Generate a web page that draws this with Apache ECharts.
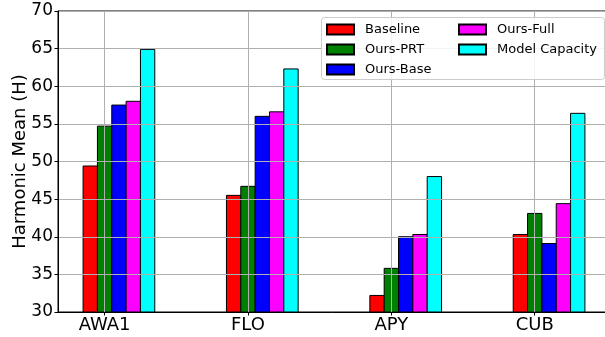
<!DOCTYPE html>
<html>
<head>
<meta charset="utf-8">
<script src="https://cdn.jsdelivr.net/npm/echarts@6/dist/echarts.min.js"></script>
<style>
html,body{margin:0;padding:0;background:#fff;}
#chart{width:605px;height:337px;}
</style>
</head>
<body>
<div id="chart"></div>
<script>
const categories = ['AWA1', 'FLO', 'APY', 'CUB'];
const seriesNames = ['Baseline', 'Ours-PRT', 'Ours-Base', 'Ours-Full', 'Model Capacity'];
const baseline = [49.4, 45.5, 32.2, 40.3];
const oursPRT = [54.7, 46.7, 35.8, 43.1];
const oursBase = [57.5, 56.0, 40.0, 39.1];
const oursFull = [58.0, 56.6, 40.3, 44.4];
const modelCapacity = [64.9, 62.3, 48.0, 56.4];
const yTicks = [30, 35, 40, 45, 50, 55, 60, 65, 70];

const allValues = [baseline, oursPRT, oursBase, oursFull, modelCapacity];
const colors = ['#ff0000', '#008000', '#0000ff', '#ff00ff', '#00ffff'];
const offsets = [-0.1, 0, 0.1, 0.2, 0.3];
const HALF_W = 0.05;
const FONT = 'DejaVu Sans';

const chart = echarts.init(document.getElementById('chart'), null, {renderer: 'canvas'});

const series = seriesNames.map((name, s) => ({
  name: name,
  type: 'custom',
  itemStyle: {color: colors[s], borderColor: '#000', borderWidth: 1},
  emphasis: {disabled: true},
  clip: true,
  encode: {x: 0, y: 1},
  renderItem: (params, api) => {
    const x = api.value(0), y = api.value(1);
    const p1 = api.coord([x - HALF_W, y]);
    const p2 = api.coord([x + HALF_W, yTicks[0]]);
    return {
      type: 'rect',
      shape: {x: p1[0], y: p1[1], width: p2[0] - p1[0], height: p2[1] - p1[1]},
      style: {fill: colors[s], stroke: '#000', lineWidth: 1}
    };
  },
  data: allValues[s].map((v, i) => [i + offsets[s], v])
}));

const legendCommon = {
  orient: 'vertical',
  itemWidth: 27,
  itemHeight: 10,
  itemGap: 7,
  padding: 0,
  z: 60,
  icon: 'rect',
  selectedMode: false,
  textStyle: {fontFamily: FONT, fontSize: 13, color: '#000', padding: [0, 0, 0, 6]}
};

chart.setOption({
  animation: false,
  backgroundColor: '#fff',
  grid: {left: 58, top: 11, bottom: 25, right: -5, outerBoundsMode: 'none', containLabel: false,
    show: true, borderColor: '#000', borderWidth: 1, backgroundColor: 'transparent'},
  legend: [
    Object.assign({}, legendCommon, {left: 326, top: 23, data: seriesNames.slice(0, 3)}),
    Object.assign({}, legendCommon, {left: 458, top: 23, data: seriesNames.slice(3)})
  ],
  graphic: [{
    type: 'rect', z: 50,
    shape: {x: 321.5, y: 17.5, width: 283, height: 62, r: 3},
    style: {fill: 'rgba(255,255,255,0.85)', stroke: '#cccccc', lineWidth: 1}
  }],
  xAxis: {
    type: 'value',
    min: -0.325,
    max: 3.525,
    z: 10,
    axisLine: {show: true, onZero: false, lineStyle: {color: '#000', width: 1}},
    axisTick: {show: true, length: 3.5, lineStyle: {color: '#000'}, customValues: [0, 1, 2, 3]},
    axisLabel: {
      customValues: [0, 1, 2, 3],
      formatter: v => categories[Math.round(v)],
      fontFamily: FONT, fontSize: 18, color: '#000', margin: 4
    },
    splitLine: {show: true, lineStyle: {color: '#b0b0b0', width: 1}}
  },
  yAxis: {
    type: 'value',
    min: 30,
    max: 70,
    interval: 5,
    z: 10,
    name: 'Harmonic Mean (H)',
    nameLocation: 'middle',
    nameGap: 29,
    nameMoveOverlap: false,
    nameTextStyle: {fontFamily: FONT, fontSize: 18, color: '#000'},
    axisLine: {show: true, onZero: false, lineStyle: {color: '#000', width: 1}},
    axisTick: {show: true, length: 3.5, lineStyle: {color: '#000'}},
    axisLabel: {fontFamily: FONT, fontSize: 17, color: '#000', margin: 5,
      formatter: v => (yTicks.indexOf(v) >= 0 ? String(v) : '')},
    splitLine: {show: true, lineStyle: {color: '#b0b0b0', width: 1}}
  },
  series: series
});
</script>
</body>
</html>
